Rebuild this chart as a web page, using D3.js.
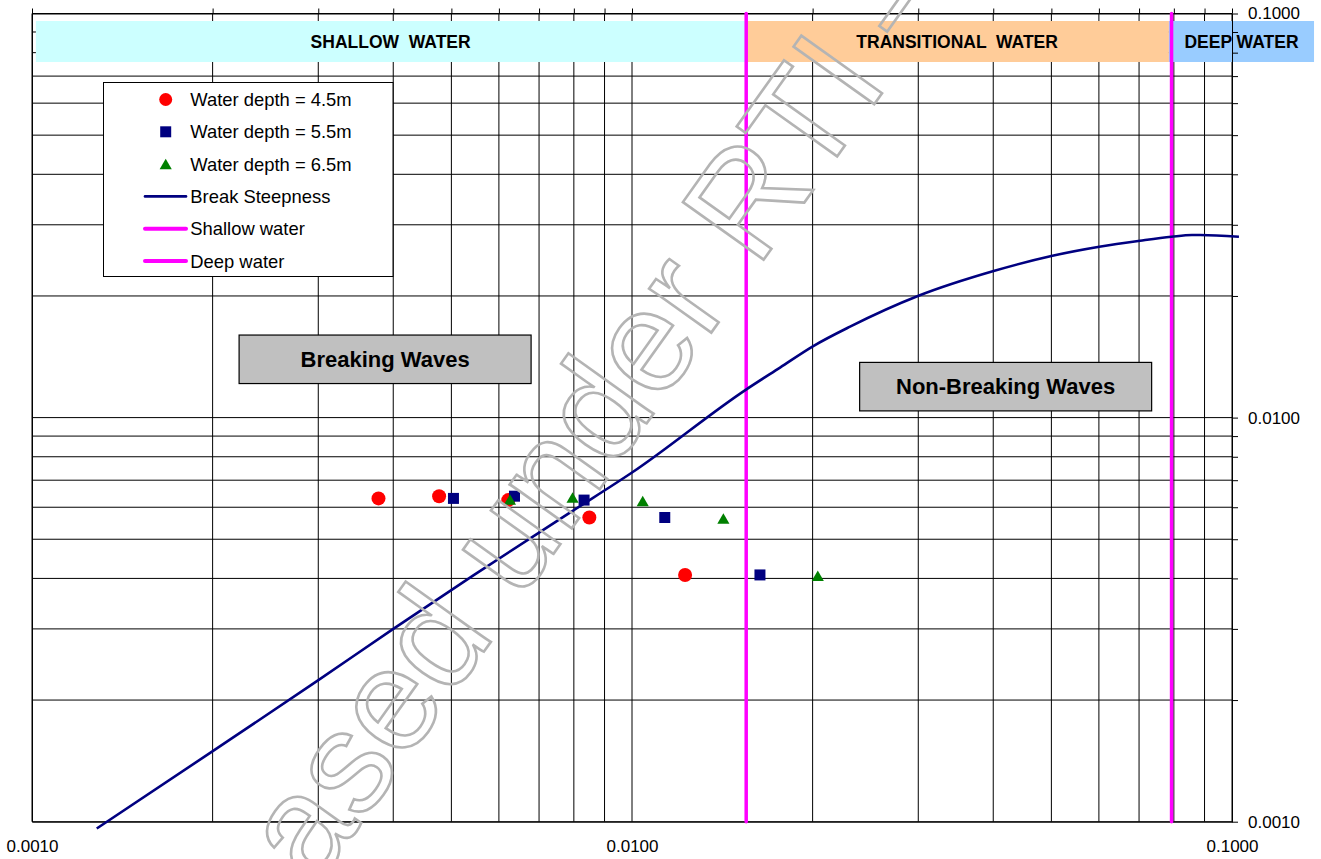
<!DOCTYPE html>
<html>
<head>
<meta charset="utf-8">
<script src="https://cdn.jsdelivr.net/npm/d3@7/dist/d3.min.js"></script>
<style>
  body { margin: 0; background: #fff; }
  svg { display: block; }
</style>
</head>
<body>
<div id="container"></div>
<script>
let w = 1321;
let h = 859;
let font = "'Liberation Sans', Arial, sans-serif";

// DATA (x = d/gT^2, y = H/gT^2)
let depth45X = [0.00378, 0.00477, 0.00622, 0.00849, 0.01226];
let depth45Y = [0.00631, 0.00639, 0.00625, 0.00566, 0.00408];
let depth55X = [0.00504, 0.00637, 0.00832, 0.01134, 0.01634];
let depth55Y = [0.00631, 0.00639, 0.00625, 0.00566, 0.00408];
let depth65X = [0.00626, 0.00796, 0.01042, 0.01420, 0.02040];
let depth65Y = [0.00627, 0.00634, 0.00622, 0.00563, 0.00406];

let breakX = [0.001282, 0.002001, 0.003001, 0.004001, 0.00544, 0.00788, 0.01003, 0.01549,
              0.01765, 0.02005, 0.02309, 0.03003, 0.04006, 0.05021, 0.06009, 0.07026, 0.07925,
              0.08577, 0.08847, 0.1027];
let breakY = [0.000962, 0.001495, 0.00224, 0.0030, 0.004071, 0.005819, 0.007333, 0.01173,
              0.01330, 0.01503, 0.01679, 0.02002, 0.02305, 0.02515, 0.02647, 0.02739, 0.02802,
              0.02830, 0.02830, 0.02802];

let shallowLimit = 0.0155;
let deepLimit = 0.0793;

let zoneNames = ["SHALLOW  WATER", "TRANSITIONAL  WATER", "DEEP WATER"];
let zoneEdges = [0.001015, 0.01545, 0.0785, 0.137];
let zoneColors = ["#CCFFFF", "#FFCC99", "#99CCFF"];

let majorTicks = [0.001, 0.01, 0.1];
let legendLabels = ["Water depth = 4.5m", "Water depth = 5.5m", "Water depth = 6.5m",
                    "Break Steepness", "Shallow water", "Deep water"];
let regionLabels = ["Breaking Waves", "Non-Breaking Waves"];
let regionX = [0.003877, 0.04195];
let regionY = [0.01396, 0.011946];

// SVG
let viz = d3.select("#container").append("svg")
    .attr("width", w)
    .attr("height", h)
    .style("font-family", font);

let plotLeft = 32, plotRight = 1232, plotTop = 13.5, plotBottom = 821.7;

let x = d3.scaleLog().domain([0.001, 0.1]).range([plotLeft, plotRight]);
let y = d3.scaleLog().domain([0.001, 0.1]).range([plotBottom, plotTop]);

// gridlines
let grid = viz.append("g");
grid.selectAll(".vgrid").data(x.ticks()).enter()
  .append("line")
    .attr("x1", d => x(d)).attr("x2", d => x(d))
    .attr("y1", plotTop).attr("y2", plotBottom)
    .attr("stroke", "#000").attr("stroke-width", 1);
grid.selectAll(".hgrid").data(y.ticks()).enter()
  .append("line")
    .attr("x1", plotLeft).attr("x2", plotRight)
    .attr("y1", d => y(d)).attr("y2", d => y(d))
    .attr("stroke", "#000").attr("stroke-width", 1);

// water zone bands
let zones = viz.append("g");
zoneNames.forEach(function(name, i){
  let x0 = x(zoneEdges[i]), x1 = x(zoneEdges[i + 1]);
  zones.append("rect")
    .attr("x", x0).attr("y", plotTop + 7.5)
    .attr("width", x1 - x0).attr("height", 41)
    .attr("fill", zoneColors[i]);
  zones.append("text")
    .attr("x", (x0 + x1) / 2).attr("y", plotTop + 34.2)
    .attr("text-anchor", "middle")
    .style("font-size", "17.5px").style("font-weight", "bold")
    .style("white-space", "pre")
    .text(name);
});

// frame and axes
function noText(g){ g.selectAll("text").remove(); }
viz.append("g").attr("transform", `translate(0,${plotTop})`)
  .call(d3.axisTop(x).tickValues(x.ticks()).tickSize(5).tickSizeOuter(0).tickFormat(""))
  .call(noText);
viz.append("g").attr("transform", `translate(${plotRight},0)`)
  .call(d3.axisRight(y).tickValues(y.ticks()).tickSize(6).tickSizeOuter(0).tickFormat(""))
  .call(noText);
viz.append("g").attr("transform", `translate(${plotLeft},0)`)
  .call(d3.axisLeft(y).tickValues([]).tickSizeOuter(0));
viz.append("g").attr("transform", `translate(0,${plotBottom})`)
  .call(d3.axisBottom(x).tickValues([]).tickSizeOuter(0));

let fmt = d3.format(".4f");
viz.append("g").attr("transform", `translate(${plotRight},0)`)
  .call(d3.axisRight(y).tickValues(majorTicks).tickSize(0).tickPadding(16).tickFormat(fmt))
  .call(g => g.select(".domain").remove())
  .call(g => g.selectAll("text").style("font-size", "17px").style("font-family", font).attr("fill", "#000"));
viz.append("g").attr("transform", `translate(0,${plotBottom})`)
  .call(d3.axisBottom(x).tickValues(majorTicks).tickSize(0).tickPadding(18).tickFormat(fmt))
  .call(g => g.select(".domain").remove())
  .call(g => g.selectAll("text").style("font-size", "17px").style("font-family", font).attr("fill", "#000"));
viz.selectAll(".domain").attr("stroke", "#000");
viz.selectAll(".tick line").attr("stroke", "#000");

// shallow / deep limits
viz.append("g").selectAll("line").data([shallowLimit, deepLimit]).enter()
  .append("line")
    .attr("x1", d => x(d)).attr("x2", d => x(d))
    .attr("y1", plotTop).attr("y2", plotBottom)
    .attr("stroke", "#FF00FF").attr("stroke-width", 3.5)
    .attr("stroke-linecap", "round");

// break steepness curve
let breakData = breakX.map((d, i) => [d, breakY[i]]);
let lineMaker = d3.line().x(d => x(d[0])).y(d => y(d[1])).curve(d3.curveMonotoneX);
viz.append("path")
  .datum(breakData)
  .attr("d", lineMaker)
  .attr("fill", "none")
  .attr("stroke", "#000080")
  .attr("stroke-width", 2.6);

// markers
let circleSym = d3.symbol().type(d3.symbolCircle).size(Math.PI * 7 * 7);
let squareSym = d3.symbol().type(d3.symbolSquare).size(11 * 11);
let triSize = 64;
let triSym = d3.symbol().type(d3.symbolTriangle).size(triSize);
let triShift = Math.sqrt(triSize / (Math.sqrt(3) * 3)) / 2; // center the triangle box on the point

let series = [
  {xs: depth45X, ys: depth45Y, sym: circleSym, color: "#FF0000", dy: 0},
  {xs: depth55X, ys: depth55Y, sym: squareSym, color: "#000080", dy: 0},
  {xs: depth65X, ys: depth65Y, sym: triSym, color: "#008000", dy: triShift}
];
series.forEach(function(s){
  viz.append("g").selectAll("path").data(s.xs).enter()
    .append("path")
      .attr("d", s.sym())
      .attr("transform", (d, i) => `translate(${x(d)},${y(s.ys[i]) + s.dy})`)
      .attr("fill", s.color);
});

// legend
let legend = viz.append("g");
legend.append("rect")
  .attr("x", 103.5).attr("y", 82.5)
  .attr("width", 289.5).attr("height", 194)
  .attr("fill", "#fff").attr("stroke", "#000").attr("stroke-width", 1);
legendLabels.forEach(function(label, i){
  let ry = 99.5 + i * 32.3;
  if (i < 3) {
    let sym = i == 0 ? d3.symbol().type(d3.symbolCircle).size(Math.PI * 6.5 * 6.5)() :
              i == 1 ? squareSym() : triSym();
    legend.append("path")
      .attr("d", sym)
      .attr("transform", `translate(165.7,${ry + series[i].dy})`)
      .attr("fill", series[i].color);
  } else {
    legend.append("line")
      .attr("x1", 145).attr("x2", 186)
      .attr("y1", ry).attr("y2", ry)
      .attr("stroke", i == 3 ? "#000080" : "#FF00FF")
      .attr("stroke-width", i == 3 ? 2.6 : 4)
      .attr("stroke-linecap", "round");
  }
  legend.append("text")
    .attr("x", 190.3).attr("y", ry + 6.5)
    .style("font-size", "18.4px")
    .text(label);
});

// region labels
regionLabels.forEach(function(label, i){
  let cx = x(regionX[i]), cy = y(regionY[i]);
  viz.append("rect")
    .attr("x", cx - 146).attr("y", cy - 24)
    .attr("width", 292).attr("height", 48.5)
    .attr("fill", "#C0C0C0").attr("stroke", "#000").attr("stroke-width", 1.2);
  viz.append("text")
    .attr("x", cx).attr("y", cy + 7.8)
    .attr("text-anchor", "middle")
    .style("font-size", "22px").style("font-weight", "bold")
    .text(label);
});

// watermark stamp (runs off the page like in the original)
viz.append("text")
  .attr("transform", "translate(143,1129.5) rotate(-54.5)")
  .attr("text-anchor", "start")
  .style("font-size", "144px")
  .attr("fill", "none")
  .attr("stroke", "#B4B4B4")
  .attr("stroke-width", 2.6)
  .text("Released under RTI \u2013");
</script>
</body>
</html>
